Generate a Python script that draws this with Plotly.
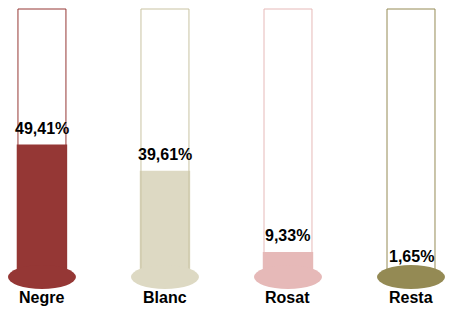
import plotly.graph_objects as go

categories = ["Negre", "Blanc", "Rosat", "Resta"]
values = [49.41, 39.61, 9.33, 1.65]
value_labels = ["49,41%", "39,61%", "9,33%", "1,65%"]
capacity = [100, 100, 100, 100]
fill_colors = ["#953735", "#DDD9C3", "#E6B9B8", "#948A54"]
line_colors = ["#953735", "#C9C3A2", "#E6B9B8", "#948A54"]

FONT = "Liberation Sans, Arial, sans-serif"
fig = go.Figure()

# filled part
fig.add_trace(go.Bar(
    x=categories, y=values, width=0.41,
    marker=dict(color=fill_colors, line=dict(width=0)),
    hoverinfo="skip", showlegend=False,
))
# empty tube outline
fig.add_trace(go.Bar(
    x=categories, y=capacity, width=0.39,
    marker=dict(color="rgba(0,0,0,0)", line=dict(color=line_colors, width=1)),
    hoverinfo="skip", showlegend=False,
))

shapes = []
annotations = []
for i, (c, v, lab) in enumerate(zip(categories, values, value_labels)):
    shapes.append(dict(
        type="circle", xref="x", yref="y",
        xsizemode="pixel", ysizemode="pixel",
        xanchor=i, yanchor=0,
        x0=-34, x1=34, y0=-12, y1=12,
        fillcolor=fill_colors[i], line=dict(width=0), layer="above",
    ))
    annotations.append(dict(
        x=c, y=v, xref="x", yref="y", text=lab, showarrow=False,
        yanchor="middle", yshift=16,
        font=dict(family=FONT, size=16, color="#000000", weight="bold"),
    ))
    annotations.append(dict(
        x=c, y=0, xref="x", yref="y", text=c, showarrow=False,
        yanchor="middle", yshift=-21,
        font=dict(family=FONT, size=16, color="#000000", weight="bold"),
    ))

fig.update_layout(
    width=450, height=311,
    margin=dict(l=0, r=0, t=0, b=0),
    paper_bgcolor="white", plot_bgcolor="white",
    barmode="overlay",
    xaxis=dict(range=[-0.341, 3.317], visible=False, fixedrange=True),
    yaxis=dict(range=[-12.69, 103.36], visible=False, fixedrange=True),
    shapes=shapes, annotations=annotations,
    showlegend=False,
)

fig.write_html(
    "out.html",
    config={"displayModeBar": False},
    post_script="document.body.style.margin='0px';document.body.style.overflow='hidden';",
)
